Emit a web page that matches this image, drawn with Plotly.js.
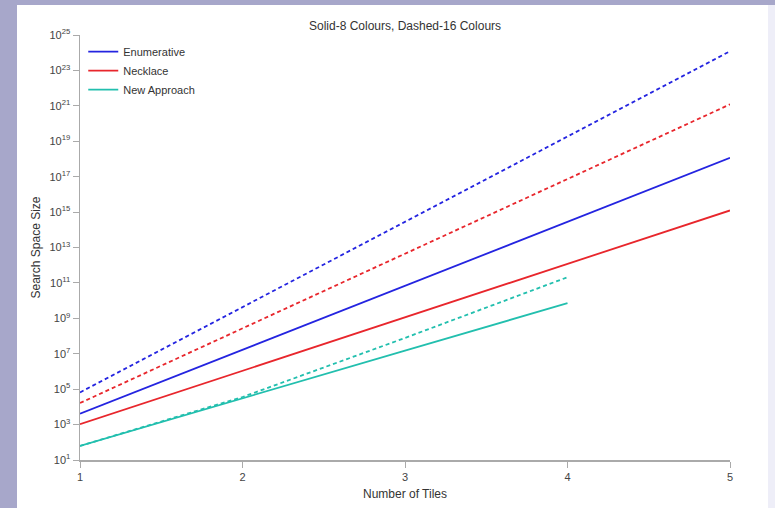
<!DOCTYPE html>
<html>
<head>
<meta charset="utf-8">
<script src="https://cdn.plot.ly/plotly-3.0.1.min.js"></script>
<style>html,body{margin:0;padding:0;background:#fff;}#chart{width:775px;height:508px;}</style>
</head>
<body>
<div id="chart"></div>
<script>
// Number of tiles
const tiles = [1, 2, 3, 4, 5];
const tilesNew = [1, 2, 3, 4];
// Search space sizes
const enum8 = [4096, 1.68e7, 6.87e10, 2.81e14, 1.15e18];
const enum16 = [65536, 4.29e9, 2.81e14, 1.84e19, 1.21e24];
const neck8 = [1044, 1.09e6, 1.14e9, 1.19e12, 1.24e15];
const neck16 = [16456, 2.71e8, 4.46e12, 7.33e16, 1.21e21];
const new8 = [62, 3.2e4, 1.5e7, 7.2e9];
const new16 = [62, 3.6e4, 7.8e7, 2.1e11];
// Y tick labels
const yTickVals = [1e1, 1e3, 1e5, 1e7, 1e9, 1e11, 1e13, 1e15, 1e17, 1e19, 1e21, 1e23, 1e25];
const yTickText = yTickVals.map(v => '10<sup>' + Math.round(Math.log10(v)) + '</sup>');
const xTickVals = [1, 2, 3, 4, 5];

const cBlue = '#2424e0', cRed = '#e8262c', cTeal = '#22bfae';
const dash = '4px,3px';

const traces = [
  {x: tiles, y: enum8, name: 'Enumerative', mode: 'lines', line: {color: cBlue, width: 1.8}},
  {x: tiles, y: neck8, name: 'Necklace', mode: 'lines', line: {color: cRed, width: 1.8}},
  {x: tilesNew, y: new8, name: 'New Approach', mode: 'lines', line: {color: cTeal, width: 1.8}},
  {x: tiles, y: enum16, name: 'Enumerative (16)', mode: 'lines', showlegend: false, line: {color: cBlue, width: 1.8, dash: dash}},
  {x: tiles, y: neck16, name: 'Necklace (16)', mode: 'lines', showlegend: false, line: {color: cRed, width: 1.8, dash: dash}},
  {x: tilesNew, y: new16, name: 'New Approach (16)', mode: 'lines', showlegend: false, line: {color: cTeal, width: 1.8, dash: dash}}
];

const layout = {
  width: 775, height: 508,
  paper_bgcolor: '#a7a7ca',
  plot_bgcolor: 'rgba(0,0,0,0)',
  margin: {l: 80, r: 45, t: 35, b: 48},
  font: {family: 'Liberation Sans, Arial, sans-serif', color: '#444', size: 11},
  title: {text: 'Solid-8 Colours, Dashed-16 Colours', font: {size: 12, color: '#333'}, x: 0.5, xanchor: 'center', xref: 'paper', y: 0.95, yanchor: 'middle'},
  showlegend: true,
  legend: {x: 0.005, y: 0.995, xanchor: 'left', yanchor: 'top', bgcolor: 'rgba(0,0,0,0)', font: {size: 11, color: '#333'}, tracegroupgap: 0, itemwidth: 30},
  xaxis: {
    range: [1, 5], tickvals: xTickVals, ticktext: xTickVals.map(String),
    showgrid: false, zeroline: false, showline: true, linecolor: '#aaa', linewidth: 1.5,
    ticks: 'outside', ticklen: 6, tickcolor: '#aaa', tickfont: {size: 11, color: '#444'},
    title: {text: 'Number of Tiles', font: {size: 12, color: '#333'}, standoff: 8}
  },
  yaxis: {
    type: 'log', range: [1, 25], tickvals: yTickVals, ticktext: yTickText,
    showgrid: false, zeroline: false, showline: true, linecolor: '#aaa', linewidth: 1.5,
    ticks: 'outside', ticklen: 6, tickcolor: '#aaa', tickfont: {size: 11, color: '#444'},
    title: {text: 'Search Space Size', font: {size: 12, color: '#333'}, standoff: 6}
  },
  shapes: [
    {type: 'rect', xref: 'paper', yref: 'paper', x0: 0, x1: 1, y0: 0, y1: 1, fillcolor: '#ffffff', line: {width: 0}, layer: 'below'},
    {type: 'rect', xref: 'paper', yref: 'paper', x0: 0, x1: 1, y0: 0, y1: 1, fillcolor: '#eeeef8', line: {width: 0}, layer: 'below'}
  ]
};
// white panel: from x=17 to x=768, y=5 to 508
layout.shapes[0].x0 = (17 - 80) / 650;
layout.shapes[0].x1 = (768 - 80) / 650;
layout.shapes[0].y0 = (460 - 508) / 425;
layout.shapes[0].y1 = (460 - 5) / 425;
layout.shapes[1].x0 = (768 - 80) / 650;
layout.shapes[1].x1 = (775 - 80) / 650;
layout.shapes[1].y0 = (460 - 508) / 425;
layout.shapes[1].y1 = (460 - 5) / 425;

Plotly.newPlot('chart', traces, layout, {displayModeBar: false, staticPlot: true});
</script>
</body>
</html>
